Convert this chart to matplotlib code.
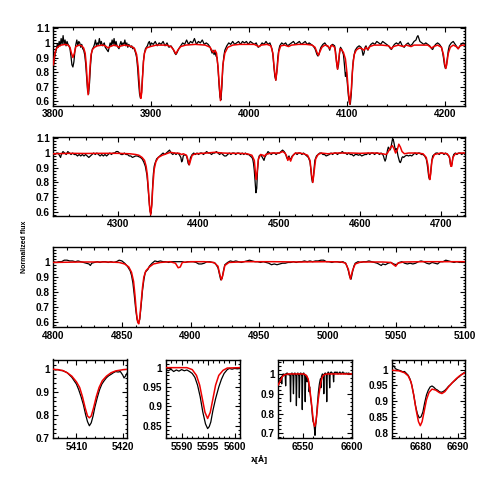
import numpy as np
import matplotlib
matplotlib.use("Agg")
import matplotlib.pyplot as plt
from matplotlib.ticker import MultipleLocator, FuncFormatter

# ---------------- data (wavelength [A], normalized flux) ----------------
obs1 = [(3800,0.83),(3801,0.88),(3802,0.93),(3803,0.95),(3804,0.99),(3805,0.97),(3806,1.01),(3807,0.98),(3808,1.03),(3809,0.99),
(3810,1.05),(3811,0.99),(3812,1.02),(3813,0.98),(3814,1.01),(3815,0.99),(3816,0.98),(3817,0.96),(3818,0.91),(3819,0.85),
(3820,0.835),(3821,0.87),(3822,0.94),(3823,0.99),(3824,1.02),(3825,0.98),(3826,1.01),(3827,1.00),(3828,0.97),(3829,0.99),
(3830,0.96),(3831,0.95),(3832,0.92),(3833,0.86),(3834,0.76),(3835,0.67),(3836,0.65),(3837,0.73),(3838,0.85),(3839,0.93),
(3840,0.96),(3841,0.97),(3842,0.99),(3843,1.02),(3844,0.98),(3845,1.00),(3846,0.99),(3847,1.03),(3848,0.99),(3849,1.01),
(3850,0.98),(3852,1.00),(3853,0.97),(3854,0.96),(3855,0.95),(3856,0.94),(3857,0.97),(3858,1.00),(3859,0.98),(3860,1.02),
(3861,0.99),(3862,1.03),(3863,0.98),(3864,1.01),(3865,0.98),(3866,0.97),(3867,0.96),(3868,0.99),(3869,1.01),(3870,0.98),
(3871,1.00),(3872,0.99),(3873,1.02),(3874,0.98),(3875,1.00),(3876,0.97),(3877,0.99),(3878,0.98),(3879,0.97),(3880,0.98),
(3881,0.96),(3882,0.97),(3883,0.95),(3884,0.93),(3885,0.90),(3886,0.83),(3887,0.73),(3888,0.65),(3889,0.62),(3890,0.66),
(3891,0.77),(3892,0.88),(3893,0.93),(3894,0.96),(3895,0.97),(3896,0.98),(3897,1.00),(3898,1.01),(3899,0.98),(3900,1.00),
(3902,0.99),(3904,1.01),(3906,0.98),(3908,1.00),(3910,0.99),(3912,1.01),(3914,0.98),(3916,1.00),(3918,0.97),(3920,0.98),
(3922,0.96),(3924,0.93),(3925,0.92),(3926,0.93),(3928,0.96),(3930,0.98),(3932,1.00),(3934,0.99),(3936,1.02),(3938,0.99),
(3940,1.01),(3942,1.00),(3944,1.03),(3946,0.99),(3948,1.01),(3950,1.00),(3952,1.02),(3954,0.99),(3956,1.00),(3958,0.99),
(3960,0.97),(3961,0.95),(3962,0.93),(3963,0.95),(3964,0.92),(3965,0.94),(3966,0.91),(3967,0.90),(3968,0.83),(3969,0.72),
(3970,0.63),(3971,0.61),(3972,0.70),(3973,0.84),(3974,0.91),(3975,0.95),(3977,0.98),(3979,1.00),(3981,0.99),(3983,1.01),
(3985,0.99),(3987,1.00),(3989,1.01),(3991,0.99),(3993,1.01),(3995,1.00),(3997,1.01),(3999,0.99),(4001,1.01),(4003,1.00),
(4005,0.99),(4007,1.00),(4009,0.97),(4011,0.98),(4013,1.00),(4015,0.99),(4017,1.01),(4019,0.99),(4021,1.00),(4022,0.98),
(4023,0.96),(4024,0.92),(4025,0.84),(4026,0.77),(4027,0.745),(4028,0.80),(4029,0.90),(4030,0.95),(4031,0.98),(4033,1.00),
(4035,0.99),(4037,1.00),(4039,0.98),(4041,0.99),(4043,1.00),(4045,1.01),(4047,0.99),(4049,1.00),(4051,1.01),(4053,0.99),
(4055,1.00),(4057,1.01),(4059,0.99),(4061,1.00),(4063,0.99),(4065,0.98),(4067,0.96),(4068,0.94),(4069,0.92),(4070,0.91),
(4071,0.92),(4072,0.95),(4073,0.97),(4075,0.99),(4077,1.00),(4079,0.98),(4081,0.97),(4082,0.95),(4083,0.98),(4085,0.99),
(4087,0.98),(4088,0.94),(4089,0.86),(4090,0.82),(4091,0.85),(4092,0.93),(4093,0.97),(4094,0.96),(4095,0.94),(4096,0.92),
(4097,0.85),(4098,0.77),(4099,0.80),(4100,0.72),(4101,0.64),(4102,0.59),(4103,0.58),(4104,0.65),(4105,0.79),(4106,0.88),
(4107,0.92),(4108,0.95),(4110,0.97),(4112,0.98),(4114,0.97),(4115,0.95),(4116,0.915),(4117,0.93),(4118,0.97),(4119,0.98),
(4120,0.96),(4121,0.95),(4122,0.97),(4124,0.99),(4126,1.00),(4128,0.99),(4130,1.01),(4132,1.00),(4134,0.99),(4136,1.01),
(4138,1.00),(4140,0.99),(4142,0.98),(4144,0.96),(4145,0.955),(4146,0.97),(4148,0.99),(4150,1.00),(4152,0.99),(4154,1.01),
(4156,0.98),(4158,0.97),(4160,0.99),(4162,1.00),(4164,0.98),(4166,0.99),(4168,1.01),(4170,1.02),(4171,1.04),(4172,1.05),
(4173,1.03),(4174,1.01),(4176,1.00),(4178,0.99),(4180,1.00),(4182,0.99),(4184,0.98),(4186,0.96),(4187,0.955),(4188,0.97),
(4190,0.99),(4192,1.00),(4194,0.99),(4196,0.97),(4197,0.94),(4198,0.90),(4199,0.85),(4200,0.825),(4201,0.84),(4202,0.90),
(4203,0.95),(4204,0.98),(4206,1.00),(4208,1.01),(4210,0.99),(4212,0.97),(4213,0.96),(4214,0.97),(4216,0.99),(4218,1.00),
(4220,0.99)]

mod1 = [(3800,0.85),(3801,0.90),(3802,0.94),(3803,0.96),(3805,0.975),(3808,0.985),(3812,0.99),(3815,0.985),(3817,0.97),
(3818.5,0.93),(3820,0.90),(3821.5,0.93),(3823,0.975),(3826,0.985),(3829,0.98),(3831,0.965),(3832.5,0.93),(3833.5,0.86),
(3834.5,0.75),(3835.5,0.645),(3836.5,0.72),(3837.5,0.84),(3838.5,0.92),(3840,0.955),(3842,0.97),(3845,0.98),(3850,0.985),
(3853,0.98),(3856,0.965),(3858,0.975),(3862,0.985),(3865,0.98),(3867,0.97),(3869,0.98),(3873,0.985),(3877,0.98),(3880,0.975),
(3883,0.96),(3885,0.92),(3886.5,0.84),(3887.5,0.74),(3888.5,0.65),(3889.3,0.62),(3890.2,0.66),(3891,0.76),(3892,0.87),
(3893,0.93),(3895,0.965),(3899,0.975),(3905,0.985),(3915,0.985),(3920,0.975),(3923,0.95),(3925,0.925),(3927,0.95),(3930,0.975),
(3935,0.985),(3945,0.99),(3955,0.985),(3960,0.97),(3962,0.945),(3963.5,0.935),(3965,0.95),(3966.5,0.93),(3968,0.84),
(3969.5,0.70),(3970.5,0.605),(3971.5,0.68),(3973,0.85),(3975,0.93),(3978,0.97),(3983,0.985),(3990,0.99),(4000,0.99),
(4005,0.99),(4008,0.98),(4010,0.975),(4012,0.985),(4018,0.99),(4022,0.98),(4024,0.93),(4025.5,0.82),(4027,0.745),(4028.5,0.83),
(4030,0.94),(4032,0.98),(4036,0.985),(4040,0.975),(4043,0.985),(4050,0.99),(4058,0.99),(4064,0.985),(4067,0.97),(4069,0.935),
(4070.5,0.915),(4072,0.94),(4074,0.97),(4077,0.985),(4080,0.98),(4082,0.96),(4084,0.985),(4087,0.97),(4089,0.87),(4090,0.82),
(4091,0.88),(4092.5,0.96),(4094,0.955),(4096,0.935),(4098,0.89),(4099.5,0.80),(4101,0.67),(4102.5,0.58),(4104,0.68),(4105.5,0.84),
(4107,0.92),(4109,0.95),(4112,0.965),(4115,0.96),(4117,0.95),(4119,0.97),(4121,0.955),(4123,0.975),(4127,0.985),(4135,0.985),
(4142,0.98),(4145,0.96),(4147,0.975),(4152,0.985),(4157,0.975),(4160,0.985),(4165,0.975),(4168,0.985),(4175,0.985),(4182,0.985),
(4186,0.965),(4188,0.975),(4192,0.985),(4196,0.97),(4198,0.92),(4199.5,0.85),(4200.5,0.825),(4201.5,0.86),(4203,0.93),
(4205,0.97),(4208,0.985),(4211,0.975),(4213,0.96),(4215,0.98),(4218,0.985),(4220,0.985)]

obs2 = [(4220,1.00),(4222,0.99),(4224,1.00),(4226,1.00),(4228,0.98),(4229,0.97),(4230,0.99),(4232,1.01),(4234,1.00),(4236,0.99),
(4238,1.01),(4240,1.00),(4242,0.99),(4244,1.00),(4246,0.99),(4248,0.99),(4250,0.98),(4252,0.99),(4254,0.98),(4256,0.99),
(4258,0.98),(4260,0.99),(4262,0.98),(4264,0.97),(4266,0.98),(4268,0.99),(4270,1.00),(4272,0.99),(4274,1.00),(4276,0.99),
(4278,0.98),(4280,0.99),(4282,0.98),(4284,0.99),(4286,0.98),(4288,0.99),(4290,1.00),(4292,0.99),(4294,1.00),(4296,1.00),
(4298,1.01),(4300,1.01),(4302,1.00),(4304,0.99),(4306,0.99),(4308,1.00),(4310,0.99),(4312,0.99),(4314,0.98),(4316,0.98),
(4318,0.97),(4320,0.975),(4322,0.98),(4324,0.98),(4326,0.975),(4328,0.97),(4330,0.96),(4332,0.94),(4334,0.91),(4336,0.85),
(4337,0.79),(4338,0.72),(4339,0.65),(4340,0.60),(4341,0.59),(4342,0.65),(4343,0.77),(4344,0.86),(4345,0.91),(4346,0.93),
(4348,0.96),(4350,0.97),(4352,0.98),(4354,0.99),(4356,1.00),(4358,0.99),(4360,1.00),(4362,1.01),(4364,1.02),(4366,1.00),
(4368,0.99),(4370,1.00),(4372,0.99),(4374,1.00),(4376,0.99),(4378,0.97),(4379,0.94),(4380,0.95),(4381,0.98),(4383,0.99),
(4385,0.98),(4386,0.96),(4387,0.93),(4388,0.92),(4389,0.94),(4390,0.97),(4392,0.99),(4394,1.00),(4396,0.99),(4398,1.00),
(4400,0.99),(4402,1.00),(4404,1.00),(4406,0.99),(4408,1.00),(4410,1.01),(4412,1.00),(4414,1.00),(4416,0.99),(4418,1.00),
(4420,1.00),(4422,1.01),(4424,1.00),(4426,0.99),(4428,1.00),(4430,0.99),(4432,0.98),(4434,0.98),(4436,0.99),(4438,1.00),
(4440,0.99),(4442,1.00),(4444,1.00),(4446,0.99),(4448,1.00),(4450,1.00),(4452,0.99),(4454,1.00),(4456,0.99),(4458,1.00),
(4460,0.99),(4462,0.99),(4464,0.98),(4466,0.97),(4467,0.96),(4468,0.93),(4469,0.88),(4470,0.80),(4471,0.73),(4472,0.76),
(4473,0.88),(4474,0.95),(4475,0.98),(4477,0.99),(4479,0.97),(4480,0.96),(4481,0.95),(4482,0.97),(4484,0.99),(4486,1.01),
(4488,1.00),(4490,0.99),(4492,1.00),(4494,1.00),(4496,0.99),(4498,1.00),(4500,1.00),(4502,1.01),(4504,1.02),(4506,1.01),
(4508,0.99),(4509,0.97),(4510,0.96),(4511,0.97),(4512,0.98),(4513,0.96),(4514,0.955),(4515,0.97),(4516,0.98),(4518,0.99),
(4520,1.00),(4522,0.99),(4524,1.00),(4526,1.00),(4528,0.99),(4530,1.00),(4532,0.99),(4534,0.98),(4536,0.97),(4538,0.94),
(4539,0.89),(4540,0.83),(4541,0.80),(4542,0.82),(4543,0.89),(4544,0.95),(4546,0.98),(4548,0.99),(4550,1.00),(4552,1.00),
(4554,0.99),(4556,0.99),(4558,0.98),(4560,0.985),(4562,0.99),(4564,1.00),(4566,0.99),(4568,1.00),(4570,1.00),(4572,0.99),
(4574,1.00),(4576,1.00),(4578,1.01),(4580,1.00),(4582,1.00),(4584,0.99),(4586,1.00),(4588,0.99),(4590,0.99),(4592,0.98),
(4594,0.99),(4596,0.99),(4598,0.985),(4600,0.99),(4602,0.98),(4604,0.985),(4606,0.99),(4608,0.99),(4610,1.00),(4612,0.99),
(4614,1.00),(4616,1.00),(4618,0.99),(4620,1.00),(4622,1.00),(4624,0.99),(4626,1.00),(4628,0.99),(4629,0.98),(4630,0.96),
(4631,0.945),(4632,0.96),(4633,0.99),(4634,1.02),(4635,1.04),(4636,1.03),(4637,1.02),(4638,1.03),(4639,1.06),(4640,1.09),
(4641,1.095),(4642,1.07),(4643,1.04),(4644,1.02),(4645,1.03),(4646,1.01),(4647,0.98),(4648,0.96),(4649,0.94),(4650,0.935),
(4651,0.95),(4652,0.97),(4653,0.975),(4654,0.97),(4656,0.98),(4658,0.985),(4660,0.98),(4662,0.985),(4664,0.98),(4666,0.99),
(4668,1.00),(4670,0.99),(4672,1.00),(4674,1.00),(4676,0.99),(4678,0.99),(4680,0.98),(4682,0.96),(4683,0.93),(4684,0.89),
(4685,0.84),(4686,0.82),(4687,0.84),(4688,0.90),(4689,0.95),(4690,0.98),(4692,0.99),(4694,1.00),(4696,1.00),(4698,0.99),
(4700,1.00),(4702,1.00),(4704,0.99),(4706,1.00),(4708,0.99),(4710,0.98),(4711,0.96),(4712,0.92),(4713,0.91),(4714,0.93),
(4715,0.97),(4716,0.99),(4718,1.00),(4720,0.99),(4722,1.00),(4724,1.00),(4726,0.99),(4728,1.00),(4730,0.99)]

mod2 = [(4220,0.995),(4240,0.998),(4260,0.997),(4280,0.998),(4300,0.998),(4315,0.995),(4322,0.99),(4326,0.985),(4330,0.97),
(4333,0.95),(4335,0.91),(4336.5,0.85),(4338,0.74),(4339.5,0.62),(4340.7,0.58),(4342,0.65),(4343.5,0.79),(4345,0.89),(4347,0.94),
(4350,0.97),(4355,0.985),(4360,0.995),(4365,1.005),(4370,1.0),(4376,0.998),(4379,0.99),(4381,0.995),(4385,0.985),(4387,0.95),
(4388.5,0.92),(4390,0.95),(4392,0.985),(4396,0.995),(4410,1.0),(4420,1.005),(4430,1.0),(4440,0.998),(4450,0.998),(4460,0.995),
(4466,0.985),(4469,0.95),(4470.5,0.86),(4471.5,0.82),(4472.5,0.87),(4474,0.96),(4477,0.99),(4480,0.985),(4481.5,0.975),
(4483,0.99),(4490,1.0),(4500,1.0),(4504,1.01),(4507,1.0),(4509,0.98),(4510.5,0.95),(4512,0.97),(4514,0.945),(4516,0.975),
(4518,0.99),(4520,1.0),(4525,1.0),(4530,0.995),(4535,0.985),(4538,0.95),(4540,0.85),(4541.5,0.80),(4543,0.87),(4545,0.96),
(4548,0.99),(4552,1.0),(4560,0.995),(4570,1.0),(4580,1.0),(4590,1.0),(4600,0.998),(4610,1.0),(4620,1.0),(4628,0.995),
(4632,0.99),(4634,1.0),(4636,1.02),(4638,1.04),(4640,1.05),(4642,1.03),(4644,1.0),(4646,1.02),(4648,1.06),(4650,1.04),
(4652,1.01),(4655,0.995),(4660,1.0),(4670,1.0),(4678,0.995),(4682,0.97),(4684,0.92),(4685.5,0.84),(4686.5,0.82),(4687.5,0.86),
(4689,0.95),(4692,0.99),(4700,1.0),(4708,0.995),(4711,0.97),(4712.5,0.91),(4713.5,0.91),(4715,0.97),(4718,0.995),(4725,1.0),
(4730,1.0)]

obs3 = [(4800,1.00),(4802,0.995),(4804,1.00),(4806,1.00),(4808,1.01),(4810,1.01),(4812,1.005),(4814,1.005),(4816,1.00),
(4818,1.005),(4820,1.00),(4822,0.995),(4824,0.99),(4826,0.985),(4827,0.975),(4828,0.99),(4830,0.995),(4832,1.00),(4834,0.995),
(4836,1.00),(4838,1.00),(4840,0.995),(4842,1.00),(4844,0.995),(4846,1.00),(4848,1.01),(4850,1.005),(4852,0.99),(4854,0.97),
(4856,0.94),(4857,0.91),(4858,0.86),(4859,0.78),(4860,0.69),(4861,0.62),(4862,0.595),(4863,0.62),(4864,0.71),(4865,0.81),
(4866,0.88),(4867,0.93),(4868,0.94),(4869,0.95),(4870,0.97),(4872,0.99),(4874,1.005),(4876,1.00),(4878,1.005),(4880,1.00),
(4882,1.00),(4884,0.995),(4886,1.00),(4888,1.00),(4890,1.00),(4892,1.00),(4894,1.00),(4896,0.995),(4898,1.00),(4900,1.00),
(4902,1.00),(4904,0.995),(4906,0.985),(4908,0.985),(4910,0.99),(4912,1.00),(4914,1.00),(4916,0.995),(4918,0.99),(4920,0.96),
(4921,0.92),(4922,0.88),(4923,0.89),(4924,0.94),(4925,0.98),(4927,0.995),(4929,1.005),(4931,1.00),(4933,1.005),(4935,1.00),
(4937,0.995),(4939,1.00),(4941,1.005),(4943,1.01),(4945,1.005),(4947,1.00),(4949,1.00),(4951,0.995),(4953,1.00),(4955,0.995),
(4957,0.99),(4959,0.98),(4961,0.985),(4963,0.98),(4965,0.985),(4967,0.99),(4969,0.99),(4971,0.995),(4973,0.995),(4975,1.00),
(4977,0.995),(4979,1.00),(4981,1.00),(4983,1.005),(4985,1.00),(4987,1.005),(4989,1.00),(4991,1.005),(4993,1.005),(4995,1.01),
(4997,1.01),(4999,1.00),(5001,1.00),(5003,0.995),(5005,1.00),(5007,1.00),(5009,0.995),(5011,1.00),(5013,0.99),(5014,0.97),
(5015,0.94),(5016,0.90),(5017,0.885),(5018,0.93),(5019,0.97),(5020,0.99),(5022,1.00),(5024,0.995),(5026,1.00),(5028,1.00),
(5030,1.005),(5032,1.00),(5034,0.995),(5036,0.99),(5038,0.98),(5039,0.975),(5040,0.985),(5042,0.98),(5044,0.99),(5046,0.995),
(5048,0.985),(5050,0.98),(5052,0.995),(5054,1.00),(5056,0.99),(5058,0.985),(5060,0.99),(5062,0.985),(5064,0.99),(5066,1.00),
(5068,1.005),(5070,1.00),(5072,0.99),(5074,0.985),(5076,0.995),(5078,0.99),(5080,0.985),(5082,1.00),(5084,1.00),(5086,1.01),
(5088,1.005),(5090,1.00),(5092,0.995),(5094,1.00),(5096,0.995),(5098,1.00),(5100,1.00)]

mod3 = [(4800,0.995),(4820,0.998),(4840,0.998),(4848,0.995),(4852,0.985),(4855,0.965),(4857,0.93),(4858.5,0.87),(4859.5,0.78),
(4860.5,0.67),(4861.5,0.60),(4862.3,0.59),(4863,0.63),(4864,0.73),(4865,0.83),(4866,0.90),(4867.5,0.94),(4870,0.965),
(4873,0.985),(4878,0.995),(4885,1.0),(4889,0.99),(4891,0.96),(4892.5,0.965),(4894,0.995),(4900,1.0),(4910,1.0),(4917,0.995),
(4920,0.97),(4921.5,0.91),(4922.5,0.88),(4923.5,0.91),(4925,0.975),(4928,0.995),(4940,1.0),(4960,1.0),(4980,0.998),(5000,1.0),
(5010,0.998),(5013,0.99),(5015,0.95),(5016.5,0.885),(5018,0.94),(5020,0.985),(5024,0.998),(5040,0.998),(5046,0.995),
(5048,0.98),(5049.5,0.97),(5051,0.99),(5055,0.998),(5070,1.0),(5085,1.0),(5100,1.0)]

obs_a = [(5405,1.0),(5405.5,0.997),(5406,0.999),(5406.5,0.995),(5407,0.994),(5407.5,0.99),(5408,0.985),(5408.5,0.975),
(5409,0.965),(5409.5,0.95),(5410,0.935),(5410.5,0.91),(5411,0.88),(5411.5,0.845),(5412,0.80),(5412.4,0.77),(5412.8,0.752),
(5413.2,0.765),(5413.6,0.795),(5414,0.835),(5414.5,0.875),(5415,0.91),(5415.5,0.935),(5416,0.95),(5416.5,0.963),(5417,0.972),
(5417.5,0.978),(5418,0.985),(5418.5,0.99),(5419,0.988),(5419.5,0.99),(5420,0.975),(5420.3,0.962),(5420.6,0.97),(5421,0.985)]
mod_a = [(5405,1.0),(5406,0.998),(5407,0.995),(5408,0.985),(5409,0.97),(5410,0.945),(5410.7,0.92),(5411.3,0.88),(5411.9,0.83),
(5412.4,0.795),(5412.8,0.787),(5413.2,0.795),(5413.7,0.83),(5414.3,0.88),(5414.9,0.92),(5415.6,0.95),(5416.5,0.97),
(5417.5,0.985),(5418.5,0.993),(5420,0.998),(5421,1.0)]

obs_b = [(5587,0.995),(5587.5,0.992),(5588,0.996),(5588.5,0.99),(5589,0.994),(5589.5,0.991),(5590,0.995),(5590.5,0.992),
(5591,0.994),(5591.5,0.99),(5592,0.985),(5592.5,0.975),(5593,0.955),(5593.5,0.925),(5594,0.885),(5594.5,0.855),(5594.9,0.843),
(5595.2,0.848),(5595.5,0.86),(5595.9,0.89),(5596.4,0.92),(5597,0.95),(5597.5,0.97),(5598,0.985),(5598.6,0.995),(5599,0.998),
(5599.5,0.996),(5600,0.998),(5600.5,0.997),(5601,0.998)]
mod_b = [(5587,1.0),(5591,1.0),(5592,0.995),(5592.8,0.98),(5593.4,0.955),(5593.9,0.92),(5594.4,0.885),(5594.9,0.869),
(5595.4,0.885),(5595.9,0.92),(5596.4,0.955),(5597,0.98),(5597.8,0.993),(5598.6,0.999),(5601,1.0)]

obs_c = [(6525,0.94),(6526,0.96),(6527,0.975),(6528,0.985),(6528.5,0.95),(6529,0.99),(6530,1.0),(6531,0.995),(6532,1.0),
(6532.5,0.94),(6533,1.0),(6534,1.005),(6535,0.995),(6536,1.0),(6537,0.99),(6537.5,0.86),(6538,1.0),(6539,1.005),(6540,0.99),
(6540.5,0.90),(6541,1.0),(6542,1.005),(6543,0.99),(6543.5,0.84),(6544,0.995),(6545,1.005),(6546,0.99),(6546.5,0.88),(6547,1.0),
(6548,1.005),(6549,0.99),(6549.5,0.82),(6550,1.0),(6551,1.005),(6552,0.99),(6552.5,0.86),(6553,0.995),(6554,0.99),(6554.5,0.96),
(6555,0.975),(6556,0.96),(6556.5,0.91),(6557,0.935),(6558,0.88),(6559,0.84),(6560,0.78),(6560.5,0.76),(6561,0.755),
(6561.5,0.745),(6562,0.72),(6562.5,0.69),(6563,0.73),(6564,0.78),(6565,0.85),(6566,0.91),(6567,0.95),(6568,0.975),
(6568.5,0.93),(6569,0.985),(6570,1.0),(6571,0.995),(6571.5,0.90),(6572,1.0),(6573,1.005),(6574,0.995),(6574.5,0.86),
(6575,1.0),(6576,1.01),(6577,1.0),(6577.5,0.93),(6578,1.005),(6579,1.01),(6580,1.005),(6581,1.0),(6581.5,0.96),(6582,1.005),
(6583,1.01),(6584,1.005),(6585,1.01),(6586,1.0),(6587,1.005),(6588,1.01),(6589,1.0),(6590,1.005),(6591,1.01),(6592,1.0),
(6593,1.005),(6594,1.0),(6595,1.005),(6596,1.0),(6597,1.005),(6598,1.0),(6599,1.0),(6600,1.0)]
mod_c = [(6525,0.945),(6527,0.965),(6529,0.985),(6531,0.995),(6535,1.0),(6550,1.0),(6552,0.998),(6554,0.99),(6555.5,0.975),
(6557,0.93),(6558.5,0.87),(6560,0.80),(6561.2,0.75),(6562.2,0.735),(6563.2,0.75),(6564.4,0.80),(6565.8,0.87),(6567.2,0.92),
(6568.5,0.96),(6570,0.985),(6572,0.997),(6575,1.0),(6600,1.0)]

obs_d = [(6672,1.018),(6672.3,1.01),(6672.6,1.012),(6673,1.003),(6673.5,1.0),(6674,0.998),(6674.5,0.996),(6675,0.993),
(6675.5,0.994),(6676,0.988),(6676.5,0.982),(6677,0.97),(6677.5,0.95),(6678,0.92),(6678.5,0.885),(6679,0.86),(6679.5,0.847),
(6680,0.85),(6680.5,0.865),(6681,0.895),(6681.5,0.92),(6682,0.935),(6682.5,0.945),(6683,0.948),(6683.5,0.944),(6684,0.938),
(6684.5,0.935),(6685,0.93),(6685.5,0.928),(6686,0.93),(6686.5,0.934),(6687,0.94),(6687.5,0.947),(6688,0.952),(6688.5,0.958),
(6689,0.963),(6689.5,0.968),(6690,0.974),(6690.5,0.978),(6691,0.984),(6691.5,0.988),(6692,0.992)]
mod_d = [(6672,0.998),(6674,0.996),(6675.5,0.99),(6676.5,0.98),(6677.3,0.96),(6678,0.92),(6678.7,0.87),(6679.3,0.835),
(6679.8,0.822),(6680.3,0.835),(6680.9,0.87),(6681.5,0.905),(6682.2,0.928),(6683,0.938),(6684,0.935),(6685,0.927),
(6685.7,0.924),(6686.5,0.93),(6687.5,0.945),(6688.5,0.958),(6689.5,0.97),(6690.5,0.98),(6691.5,0.987),(6692,0.99)]

# ---------------- style ----------------
FONT = "Liberation Sans"
plt.rcParams["font.family"] = [FONT, "DejaVu Sans"]
plt.rcParams["font.weight"] = "bold"
plt.rcParams["axes.linewidth"] = 1.0

W = 491.0
fig = plt.figure(figsize=(4.91, 4.91), dpi=100)

def px_axes(x0, x1, ytop, ybot):
    return fig.add_axes([x0 / W, 1 - ybot / W, (x1 - x0) / W, (ybot - ytop) / W])

def style(ax, xlim, ylim, xmaj, xmin, ymaj, ymin, yticks=None):
    ax.set_xlim(*xlim)
    ax.set_ylim(*ylim)
    ax.xaxis.set_major_locator(MultipleLocator(xmaj))
    ax.xaxis.set_minor_locator(MultipleLocator(xmin))
    if yticks is not None:
        ax.set_yticks(yticks)
    else:
        ax.yaxis.set_major_locator(MultipleLocator(ymaj))
    ax.yaxis.set_minor_locator(MultipleLocator(ymin))
    ax.yaxis.set_major_formatter(FuncFormatter(lambda v, p: "%g" % round(v, 3)))
    ax.xaxis.set_major_formatter(FuncFormatter(lambda v, p: "%d" % round(v)))
    ax.tick_params(which="both", direction="in", top=True, right=True, width=0.8)
    ax.tick_params(which="major", length=3.4, labelsize=7.2, pad=2.4)
    ax.tick_params(which="minor", length=1.8)
    for lab in ax.get_xticklabels() + ax.get_yticklabels():
        lab.set_fontweight("bold")

def draw(ax, obs, mod):
    o = np.array(obs)
    m = np.array(mod)
    ax.plot(o[:, 0], o[:, 1], color="black", lw=0.9, zorder=2)
    ax.plot(m[:, 0], m[:, 1], color="#ee0000", lw=1.1, zorder=3)

ax1 = px_axes(53.3, 465, 26.7, 106)
draw(ax1, obs1, mod1)
style(ax1, (3800, 4220), (0.568, 1.111), 100, 20, 0.1, 0.02)

ax2 = px_axes(53.3, 465, 136.7, 216)
draw(ax2, obs2, mod2)
style(ax2, (4220, 4730), (0.572, 1.111), 100, 20, 0.1, 0.02)

ax3 = px_axes(53.3, 465, 247.3, 327.3)
draw(ax3, obs3, mod3)
style(ax3, (4800, 5100), (0.567, 1.095), 50, 10, 0.1, 0.02, yticks=[0.6, 0.7, 0.8, 0.9, 1.0])

axa = px_axes(53.3, 127.3, 359.5, 438.3)
draw(axa, obs_a, mod_a)
style(axa, (5405, 5421), (0.697, 1.043), 10, 2, 0.1, 0.02)

axb = px_axes(165.7, 240, 359.5, 438.3)
draw(axb, obs_b, mod_b)
style(axb, (5587, 5601), (0.818, 1.021), 5, 1, 0.05, 0.01)

axc = px_axes(278.3, 351.7, 359.5, 438.3)
draw(axc, obs_c, mod_c)
style(axc, (6525, 6600), (0.675, 1.073), 50, 10, 0.1, 0.02)

axd = px_axes(391.7, 465, 359.5, 438.3)
draw(axd, obs_d, mod_d)
style(axd, (6672, 6692), (0.782, 1.032), 10, 2, 0.05, 0.01)

fig.text(25 / W, 1 - 247 / W, "Normalized flux", rotation=90, ha="center", va="center",
         fontsize=5.0, fontweight="bold")
fig.text(259 / W, 1 - 460 / W, "λ[Å]", ha="center", va="center", fontsize=5.4, fontweight="bold",
         family=["DejaVu Sans"])

fig.savefig("out.png", dpi=100)
